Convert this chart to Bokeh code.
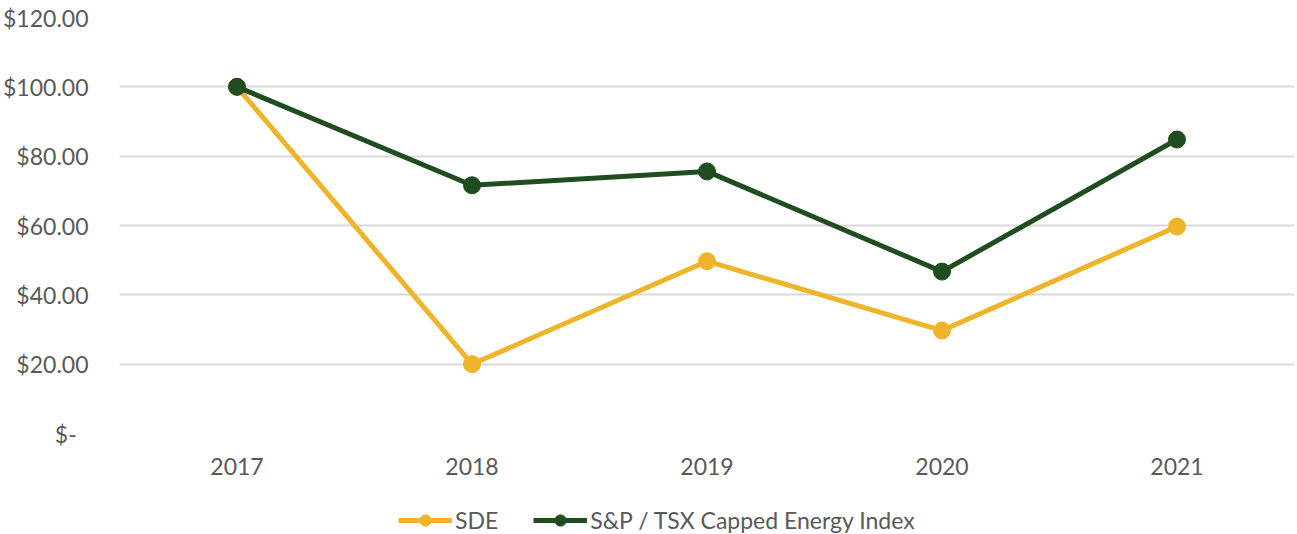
from bokeh.plotting import figure
from bokeh.models import Range1d, FixedTicker, Legend, LegendItem
from bokeh.layouts import column
from bokeh.embed import file_html
from bokeh.resources import INLINE

# ---- data ----
years = [2017, 2018, 2019, 2020, 2021]
sde = [100.0, 20.0, 49.7, 29.7, 59.7]
index_vals = [100.0, 71.6, 75.6, 46.7, 84.8]
y_ticks = [0, 20, 40, 60, 80, 100, 120]
y_tick_labels = ["$-\u00a0\u00a0", "$20.00", "$40.00", "$60.00", "$80.00", "$100.00", "$120.00"]
series_names = ["SDE", "S&P / TSX Capped Energy Index"]

GOLD = "#f0b42a"
GREEN = "#1f4d1f"
TEXT = "#595959"
FONT = "Lato"
FS = "23px"

W = 1297
H_MAIN, H_LEG = 504, 30

p = figure(width=W, height=H_MAIN, output_backend="svg", toolbar_location=None,
           x_range=Range1d(years[0] - 0.5, years[-1] + 0.5),
           y_range=Range1d(0, 120),
           min_border_left=118, min_border_right=3,
           min_border_top=17, min_border_bottom=71)
p.outline_line_color = None
p.background_fill_color = "white"
p.border_fill_color = "white"

p.xgrid.grid_line_color = None
p.ygrid.grid_line_color = "#d9d9d9"
p.ygrid.grid_line_width = 2
p.ygrid.ticker = FixedTicker(ticks=y_ticks)

p.yaxis.ticker = FixedTicker(ticks=y_ticks)
p.yaxis.major_label_overrides = {t: l for t, l in zip(y_ticks, y_tick_labels)}
p.xaxis.ticker = FixedTicker(ticks=years)
p.xaxis.major_label_overrides = {y: str(y) for y in years}

for ax in (p.xaxis, p.yaxis):
    ax.axis_line_color = None
    ax.major_tick_line_color = None
    ax.minor_tick_line_color = None
    ax.major_tick_out = 0
    ax.major_label_text_color = TEXT
    ax.major_label_text_font = FONT
    ax.major_label_text_font_size = FS
p.yaxis.major_label_standoff = 31
p.xaxis.major_label_standoff = 24

p.line(years, sde, line_color=GOLD, line_width=5)
p.scatter(years, sde, size=17, fill_color=GOLD, line_color=GOLD)
p.line(years, index_vals, line_color=GREEN, line_width=5)
p.scatter(years, index_vals, size=17, fill_color=GREEN, line_color=GREEN)

# legend strip below the chart; its glyphs lie outside this strip's view,
# only their legend swatches are visible
q = figure(width=W, height=H_LEG, output_backend="svg", toolbar_location=None,
           x_range=Range1d(0, 1), y_range=Range1d(0, 1),
           x_axis_location=None, y_axis_location=None,
           min_border_left=0, min_border_right=0, min_border_top=0, min_border_bottom=0)
q.outline_line_color = None
q.grid.grid_line_color = None
q.background_fill_color = "white"
q.border_fill_color = "white"
k1 = q.line(years, sde, line_color=GOLD, line_width=5)
m1 = q.scatter(years, sde, size=17, fill_color=GOLD, line_color=GOLD)
k2 = q.line(years, index_vals, line_color=GREEN, line_width=5)
m2 = q.scatter(years, index_vals, size=17, fill_color=GREEN, line_color=GREEN)

legend = Legend(items=[LegendItem(label=series_names[0], renderers=[k1, m1]),
                       LegendItem(label=series_names[1], renderers=[k2, m2])],
                location=(279, 0), orientation="horizontal",
                glyph_width=54, glyph_height=28, label_height=20,
                label_standoff=3, spacing=35, padding=0, margin=0,
                border_line_color=None, background_fill_alpha=0,
                label_text_font=FONT, label_text_font_size=FS,
                label_text_color=TEXT)
q.add_layout(legend, "center")

open("out.html", "w").write(file_html(column(p, q, spacing=0), INLINE))
